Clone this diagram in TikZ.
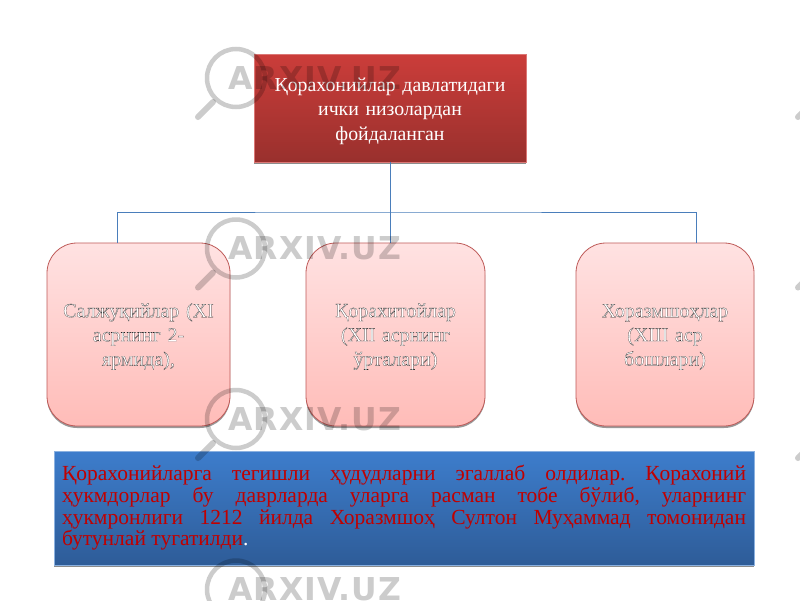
\documentclass[tikz,border=0pt]{standalone}
\usepackage{fontspec}
\setmainfont{Liberation Serif}
\newfontfamily\markfont[LetterSpace=3.5]{DejaVu Sans Bold}
\usetikzlibrary{shadows}
\newcommand\hollow[1]{\special{pdf:code 0.12 0.12 0.12 RG 2 Tr 0.16 w}#1\special{pdf:code 0 Tr}}
\tikzset{
  headbox/.style={rectangle,minimum width=272pt,minimum height=108pt,top color=headtop,bottom color=headbot,
    draw=headtop!70!white,line width=.6pt,text=white,align=center,text width=250pt,
    font=\fontsize{19.8}{24.5}\selectfont,drop shadow={shadow xshift=0pt,shadow yshift=-2pt,opacity=.45,fill=black}},
  periodbox/.style={rectangle,rounded corners=30pt,minimum width=#1,minimum height=183pt,top color=pinktop,bottom color=pinkbot,
    draw=pinkline,line width=.8pt,text=white,align=center,text width=165pt,
    font=\fontsize{20}{24.2}\selectfont,drop shadow={shadow xshift=0pt,shadow yshift=-2pt,opacity=.4,fill=black}},
  notebox/.style={rectangle,minimum width=700pt,minimum height=114pt,top color=notetop,bottom color=notebot,
    draw=notetop!60!white,line width=.6pt,text=notered,align=justify,text width=684pt,
    font=\fontsize{21.5}{21.6}\selectfont\frenchspacing,drop shadow={shadow xshift=0pt,shadow yshift=-2pt,opacity=.45,fill=black}},
  link/.style={draw=linkblue,line width=.8pt},
  markline/.style={draw=black!20,line width=4.5pt,line cap=round},
}
\definecolor{headtop}{HTML}{CB3D3A}
\definecolor{headbot}{HTML}{99302D}
\definecolor{pinktop}{HTML}{FFE2E2}
\definecolor{pinkbot}{HTML}{FFBCB8}
\definecolor{pinkline}{HTML}{BE5A58}
\definecolor{notetop}{HTML}{3D7DCC}
\definecolor{notebot}{HTML}{2E5C98}
\definecolor{notered}{HTML}{C00000}
\definecolor{linkblue}{HTML}{4A7EBB}
\begin{document}
\begin{tikzpicture}[x=1pt,y=-1pt]
  \clip (0,0) rectangle (800,600);
  \fill[white] (0,0) rectangle (800,600);
  \coordinate (bar) at (390,212);
  \coordinate (dropa) at (117,243);
  \coordinate (dropb) at (696,243);
  \node[headbox] (head) at (390,108) {\rule{0pt}{20pt}Қорахонийлар давлатидаги\\ ички низолардан\\ фойдаланган};
  \node[periodbox=183pt] (saljuq) at (138.5,334.5) {\hollow{\rule{0pt}{18pt}Салжуқийлар (XI\\ асрнинг 2-\\ ярмида),}};
  \node[periodbox=179pt] (qorakhitoy) at (395.5,334.5) {\hollow{\rule{0pt}{18pt}Қорахитойлар\\ (XII асрнинг\\ ўрталари)}};
  \node[periodbox=178pt] (khorazm) at (665,334.5) {\hollow{\rule{0pt}{18pt}Хоразмшоҳлар\\ (XIII аср\\ бошлари)}};
  \node[notebox] (note) at (404,508) {Қорахонийларга тегишли ҳудудларни эгаллаб олдилар. Қорахоний\linebreak
    ҳукмдорлар бу даврларда уларга расман тобе бўлиб, уларнинг\linebreak
    ҳукмронлиги 1212 йилда Хоразмшоҳ Султон Муҳаммад томонидан\linebreak
    бутунлай тугатилди\textcolor{white}{.}};
  \begin{scope}[link]
    \draw (head.south) -- (head.south |- qorakhitoy.north);
    \draw (dropa) |- (bar) -| (dropb);
  \end{scope}
  \begin{scope}[blend mode=multiply]
    \foreach \col in {0,1}
      \foreach \row in {0,1,2,3} {
        \begin{scope}[shift={(600*\col,170.5*\row)}]
          \draw[markline] (236,78) circle (29);
          \draw[markline,line width=6pt] (213,102) -- (198,117);
          \node[anchor=west,inner sep=0pt,text=black!20,font=\markfont\fontsize{31.5}{32}\selectfont] (mark\col\row) at (228,78) {ARXIV.UZ};
        \end{scope}
      }
  \end{scope}
\end{tikzpicture}
\end{document}
